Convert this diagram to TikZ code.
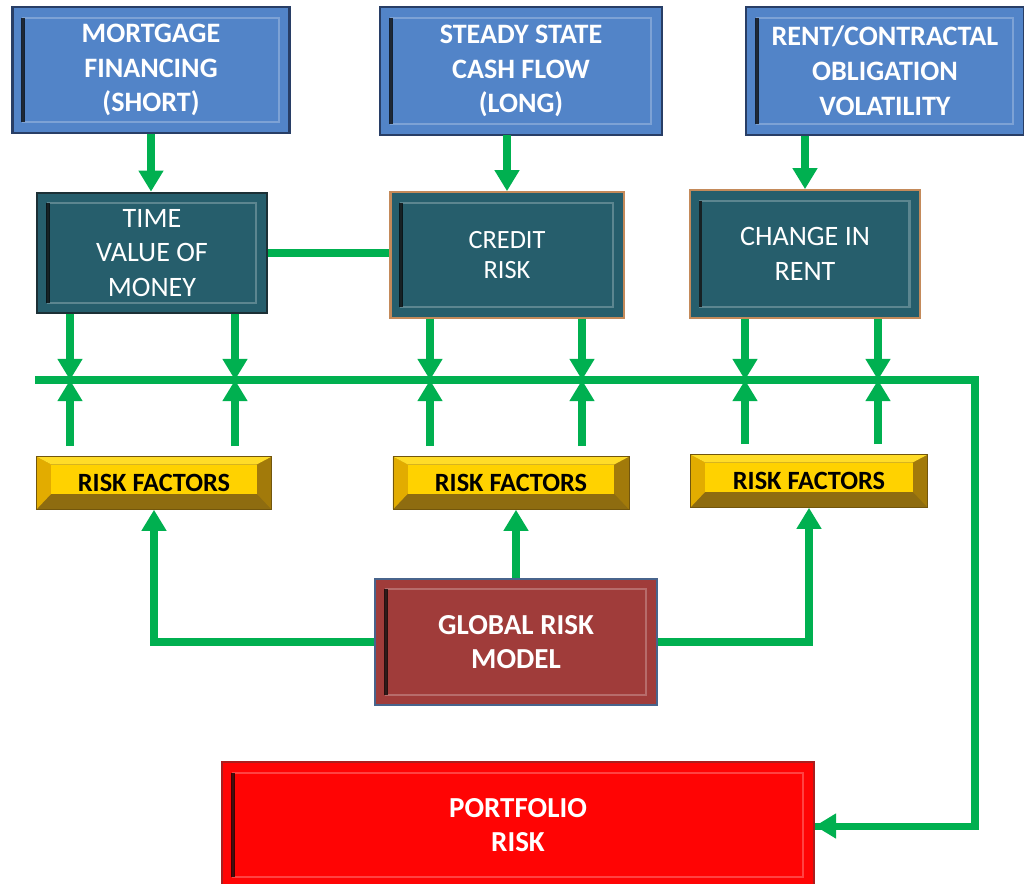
\documentclass[tikz,border=0pt]{standalone}
\usepackage{fontspec}
\setmainfont{Carlito}
\usetikzlibrary{arrows.meta,calc}

\definecolor{topblue}{RGB}{82,132,200}
\definecolor{topedge}{RGB}{40,62,102}
\definecolor{teal}{RGB}{38,94,108}
\definecolor{tealedge}{RGB}{28,48,54}
\definecolor{tan}{RGB}{196,138,90}
\definecolor{goldface}{RGB}{255,210,0}
\definecolor{goldtop}{RGB}{255,220,40}
\definecolor{goldleft}{RGB}{226,172,0}
\definecolor{goldright}{RGB}{162,122,10}
\definecolor{goldbottom}{RGB}{142,108,16}
\definecolor{modelred}{RGB}{160,60,58}
\definecolor{modeledge}{RGB}{72,100,140}
\definecolor{riskred}{RGB}{255,4,4}
\definecolor{riskedge}{RGB}{170,30,30}
\definecolor{linkgreen}{RGB}{0,176,80}

\begin{document}
\begin{tikzpicture}[x=0.02cm,y=-0.02cm,>={Triangle[width=13.5pt,length=12pt]}]
        \tikzstyle{bevel}=[path picture={
            \draw[white,draw opacity=0.25,line width=1.2pt] ([shift={(6pt,-6pt)}]path picture bounding box.north west) rectangle ([shift={(-6pt,6pt)}]path picture bounding box.south east);
            \draw[black,draw opacity=0.75,line width=2.2pt] ([shift={(6pt,-6pt)}]path picture bounding box.north west) -- ([shift={(6pt,6pt)}]path picture bounding box.south west);
        }]
        \tikzstyle{source}=[rectangle,bevel,draw=topedge,line width=1.2pt,fill=topblue,text=white,align=center,font=\fontsize{16}{19.8}\selectfont\bfseries]
        \tikzstyle{effect}=[rectangle,bevel,draw=tan,line width=1.2pt,fill=teal,text=white,align=center,font=\fontsize{16}{19.8}\selectfont]
        \tikzstyle{factor}=[rectangle,fill=goldbottom,draw=goldbottom!80!black,line width=0.4pt,minimum width=236\pgfxunit,minimum height=53pt*0.567,font=\fontsize{15}{18}\selectfont\bfseries,text=black,
            path picture={
            \fill[goldleft] (path picture bounding box.north west) -- (path picture bounding box.south west) -- ([shift={(8.5pt,9pt)}]path picture bounding box.south west) -- ([shift={(8.5pt,-4.5pt)}]path picture bounding box.north west) -- cycle;
            \fill[goldright] (path picture bounding box.north east) -- (path picture bounding box.south east) -- ([shift={(-8.5pt,9pt)}]path picture bounding box.south east) -- ([shift={(-8.5pt,-4.5pt)}]path picture bounding box.north east) -- cycle;
            \fill[goldtop] (path picture bounding box.north west) -- (path picture bounding box.north east) -- ([shift={(-8.5pt,-4.5pt)}]path picture bounding box.north east) -- ([shift={(8.5pt,-4.5pt)}]path picture bounding box.north west) -- cycle;
            \fill[goldface] ([shift={(8.5pt,-4.5pt)}]path picture bounding box.north west) rectangle ([shift={(-8.5pt,9pt)}]path picture bounding box.south east);
        }]
        \tikzstyle{link}=[linkgreen,line width=4pt]
        \tikzstyle{feed}=[link,->]

        \useasboundingbox (0,0) rectangle (1024,883);

        % sources
        \node [source,minimum width=278*0.567pt,minimum height=126*0.567pt] (mort) at (151,70) {MORTGAGE\\FINANCING\\(SHORT)};
        \node [source,minimum width=283*0.567pt,minimum height=128*0.567pt] (cash) at (521,71) {STEADY STATE\\CASH FLOW\\(LONG)};
        \node [source,minimum width=279*0.567pt,minimum height=128*0.567pt] (rent) at (885,71) {RENT/CONTRACTAL\\OBLIGATION\\VOLATILITY};

        % effects
        \node [effect,draw=tealedge,minimum width=230*0.567pt,minimum height=121*0.567pt] (tvm) at (152,253) {TIME\\VALUE OF\\MONEY};
        \node [effect,minimum width=234*0.567pt,minimum height=126*0.567pt,font=\fontsize{15}{17.6}\selectfont] (credit) at (507,255) {CREDIT\\RISK};
        \node [effect,minimum width=231*0.567pt,minimum height=128*0.567pt] (chg) at (805,254) {CHANGE IN\\RENT};

        % risk factors
        \node [factor,minimum width=236*0.567pt,minimum height=53*0.567pt] (rf1) at (154,483) {RISK FACTORS};
        \node [factor,minimum width=237*0.567pt,minimum height=53*0.567pt] (rf2) at (511,483) {RISK FACTORS};
        \node [factor,minimum width=238*0.567pt,minimum height=53*0.567pt] (rf3) at (809,481) {RISK FACTORS};

        % model and result
        \node [source,draw=modeledge,fill=modelred,minimum width=283*0.567pt,minimum height=127*0.567pt,font=\fontsize{16.5}{19.5}\selectfont\bfseries] (model) at (516,642) {GLOBAL RISK\\MODEL};
        \node [source,draw=riskedge,fill=riskred,minimum width=594*0.567pt,minimum height=126*0.567pt,font=\fontsize{16.5}{19.5}\selectfont\bfseries] (port) at (518,825) {PORTFOLIO\\RISK};

        % bus
        \coordinate (busL) at (35,380);
        \coordinate (busR) at (975,380);
        \coordinate (b1) at (70,380);
        \coordinate (b2) at (235,380);
        \coordinate (b3) at (430,380);
        \coordinate (b4) at (582,380);
        \coordinate (b5) at (745,380);
        \coordinate (b6) at (878,380);

        \draw [feed] (mort.south) -- (mort.south |- tvm.north);
        \draw [feed] (507,135) -- (credit.north);
        \draw [feed] (chg.north |- rent.south) -- (chg.north);
        \draw [link] (tvm.east) -- (tvm.east -| credit.west);

        \draw [link,line join=miter] (busL) -- (busR) -- (busR |- 0,826) -- (815,826);
        \draw [feed] (busR |- 0,826) -- (port.east |- 0,826);

        \foreach \b/\e/\r in {b1/tvm/rf1,b2/tvm/rf1,b3/credit/rf2,b4/credit/rf2,b5/chg/rf3,b6/chg/rf3}{
            \draw [feed] (\b |- \e.south) -- (\b);
            \draw [feed,shorten <=5.7pt] (\b |- \r.north) -- (\b);
        }

        \draw [feed] (model.west) -| (rf1.south);
        \draw [feed] (model.north) -- (model.north |- rf2.south);
        \draw [feed] (model.east) -| (rf3.south);
\end{tikzpicture}
\end{document}
